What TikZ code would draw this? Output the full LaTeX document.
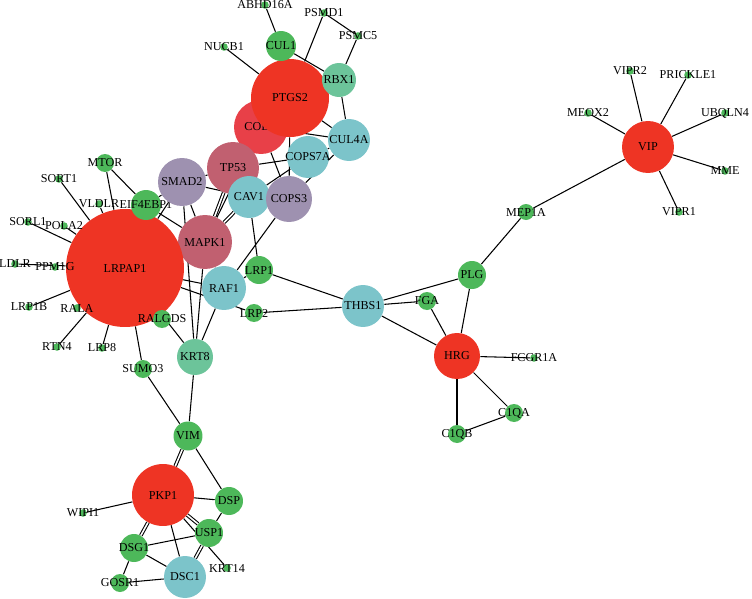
\documentclass[tikz,border=0pt]{standalone}
\usepackage{fontspec}
\setmainfont{Liberation Serif}
\usetikzlibrary{backgrounds}
\definecolor{hubred}{RGB}{238,52,36}
\definecolor{colred}{RGB}{232,64,72}
\definecolor{rosy}{RGB}{193,96,112}
\definecolor{lavender}{RGB}{158,145,176}
\definecolor{teal}{RGB}{124,196,202}
\definecolor{mint}{RGB}{108,196,154}
\definecolor{leaf}{RGB}{77,184,90}
\newcommand{\genefont}{\fontsize{6.9}{8}\selectfont}
\tikzset{
    every picture/.style={x=0.02cm,y=-0.02cm},
    gene/.style={circle,draw=none,inner sep=0pt},
    rad/.style={minimum size=#1*0.4mm},
    every label/.style={font=\genefont,inner sep=0pt,text=black},
    hub/.style={gene,fill=hubred},
    pink/.style={gene,fill=rosy},
    lav/.style={gene,fill=lavender},
    cyan/.style={gene,fill=teal},
    mnt/.style={gene,fill=mint},
    grn/.style={gene,fill=leaf},
    dot/.style={gene,fill=leaf,rad=3.8},
    dbl/.style={double=white,double distance=0.9pt},
}

\begin{document}
\begin{tikzpicture}
\useasboundingbox (0,0) rectangle (752,599);

% upper cluster
\node[pink,rad=27,label={center:MAPK1}] (mapk1) at (205,242) {};
\node[hub,rad=59,label={center:LRPAP1}] (lrpap1) at (125,268) {};
\node[grn,rad=15,label={center:EIF4EBP1}] (eif) at (146,205) {};
\node[grn,rad=9,label={center:RALGDS}] (ralgds) at (162,319) {};
\node[gene,fill=colred,rad=27,label={[xshift=0.12cm]center:COL1A1}] (col) at (261,127) {};
\node[hub,rad=39,label={center:PTGS2}] (ptgs2) at (290,98) {};
\node[mnt,rad=17,label={center:RBX1}] (rbx1) at (339,80) {};
\node[grn,rad=15,label={center:CUL1}] (cul1) at (281,46) {};
\node[cyan,rad=21,label={center:CUL4A}] (cul4a) at (349,140) {};
\node[cyan,rad=21,label={center:COPS7A}] (cops7a) at (308,157) {};
\node[lav,rad=24,label={center:SMAD2}] (smad2) at (182,182) {};
\node[pink,rad=26,label={center:TP53}] (tp53) at (233,168) {};
\node[cyan,rad=21,label={center:CAV1}] (cav1) at (249,197) {};
\node[lav,rad=23,label={center:COPS3}] (cops3) at (289,199) {};
\node[dot,label={center:ABHD16A}] (abhd) at (265,5) {};
\node[dot,label={center:PSMD1}] (psmd1) at (324,13) {};
\node[dot,label={center:PSMC5}] (psmc5) at (358,36) {};
\node[dot,label={center:NUCB1}] (nucb1) at (224,47) {};
\node[grn,rad=9,label={center:MTOR}] (mtor) at (105,163) {};
\node[dot,label={center:SORT1}] (sort1) at (59,179) {};
\node[dot,label={center:VLDLR}] (vldlr) at (99,204) {};
\node[dot,label={center:SORL1}] (sorl1) at (28,222) {};
\node[dot,label={center:POLA2}] (pola2) at (64,226) {};
\node[dot,label={center:LDLR}] (ldlr) at (15,264) {};
\node[dot,label={center:PPM1G}] (ppm1g) at (55,267) {};
\node[dot,label={center:LRP1B}] (lrp1b) at (29,307) {};
\node[dot,label={center:RALA}] (rala) at (77,308) {};
\node[dot,label={center:RTN4}] (rtn4) at (57,347) {};
\node[dot,label={center:LRP8}] (lrp8) at (102,348) {};
\node[grn,rad=9,label={center:SUMO3}] (sumo3) at (143,369) {};
\node[mnt,rad=18,label={center:KRT8}] (krt8) at (195,357) {};
\node[cyan,rad=22,label={center:RAF1}] (raf1) at (224,288) {};
\node[grn,rad=14,label={center:LRP1}] (lrp1) at (259,270) {};
\node[grn,rad=9,label={center:LRP2}] (lrp2) at (254,313) {};

% right cluster
\node[cyan,rad=21,label={center:THBS1}] (thbs1) at (363,306) {};
\node[grn,rad=9,label={center:FGA}] (fga) at (427,301) {};
\node[grn,rad=14,label={center:PLG}] (plg) at (472,275) {};
\node[hub,rad=23,label={center:HRG}] (hrg) at (457,356) {};
\node[dot,label={center:FCGR1A}] (fcgr1a) at (534,358) {};
\node[grn,rad=9,label={center:C1QA}] (c1qa) at (514,413) {};
\node[grn,rad=9,label={center:C1QB}] (c1qb) at (457,434) {};
\node[grn,rad=8,label={center:MEP1A}] (mep1a) at (526,212) {};
\node[hub,rad=26,label={center:VIP}] (vip) at (648,147) {};
\node[dot,label={center:VIPR2}] (vipr2) at (630,71) {};
\node[dot,label={center:PRICKLE1}] (prickle1) at (688,75) {};
\node[dot,label={center:MEOX2}] (meox2) at (588,113) {};
\node[dot,label={center:UBQLN4}] (ubqln4) at (725,113) {};
\node[dot,label={center:MME}] (mme) at (725,171) {};
\node[dot,label={center:VIPR1}] (vipr1) at (679,212) {};

% lower cluster
\node[grn,rad=14.5,label={center:VIM}] (vim) at (188,436) {};
\node[hub,rad=31,label={center:PKP1}] (pkp1) at (163,495) {};
\node[grn,rad=14,label={center:DSP}] (dsp) at (229,501) {};
\node[grn,rad=14,label={center:USP1}] (usp1) at (209,533) {};
\node[grn,rad=14,label={center:DSG1}] (dsg1) at (134,548) {};
\node[cyan,rad=21,label={center:DSC1}] (dsc1) at (185,577) {};
\node[grn,rad=9,label={center:GOSR1}] (gosr1) at (120,583) {};
\node[dot,label={center:WIPI1}] (wipi1) at (83,513) {};
\node[dot,label={center:KRT14}] (krt14) at (227,568) {};

\begin{scope}[on background layer,every edge/.append style={line width=0.6pt}]
\path
(abhd) edge (cul1)
(cul1) edge (rbx1)
(cul1) edge (ptgs2)
(nucb1) edge (ptgs2)
(psmd1) edge (ptgs2)
(psmd1) edge (psmc5)
(psmc5) edge (rbx1)
(rbx1) edge (cul4a)
(ptgs2) edge (cul4a)
(col) edge (cul4a)
(cops7a) edge (cul4a)
(cops3) edge (cul4a)
(tp53) edge (cops7a)
(col) edge (cops3)
(col) edge (mapk1)
(ptgs2) edge (cops3)
(cav1) edge (cops7a)
(smad2) edge (tp53)
(smad2) edge (cav1)
(smad2) edge (mapk1)
(smad2) edge (lrpap1)
(tp53) edge[dbl] (mapk1)
(cav1) edge[dbl] (mapk1)
(cops3) edge (raf1)
(cav1) edge (lrp1)
(raf1) edge (lrp1)
(mapk1) edge (raf1)
(lrpap1) edge (raf1)
(lrpap1) edge (lrp2)
(eif) edge (mtor)
(mtor) edge (lrpap1)
(eif) edge (mapk1)
(eif) edge (smad2)
(sort1) edge (lrpap1)
(vldlr) edge (lrpap1)
(sorl1) edge (lrpap1)
(pola2) edge (lrpap1)
(ldlr) edge (lrpap1)
(lrp1b) edge (lrpap1)
(rala) edge (lrpap1)
(rtn4) edge (lrpap1)
(lrp8) edge (lrpap1)
(sumo3) edge (lrpap1)
(krt8) edge (lrpap1)
(krt8) edge (mapk1)
(krt8) edge (smad2)
(krt8) edge (raf1)
(krt8) edge (vim)
(sumo3) edge (vim)
(lrp1) edge (thbs1)
(lrp2) edge (thbs1)
(thbs1) edge (plg)
(thbs1) edge (fga)
(thbs1) edge (hrg)
(fga) edge (hrg)
(plg) edge (hrg)
(hrg) edge (fcgr1a)
(hrg) edge (c1qb)
(hrg) edge (c1qa)
(c1qa) edge (c1qb)
(plg) edge (mep1a)
(mep1a) edge (vip)
(vip) edge (vipr2)
(vip) edge (prickle1)
(vip) edge (meox2)
(vip) edge (ubqln4)
(vip) edge (mme)
(vip) edge (vipr1)
(vim) edge[dbl] (pkp1)
(vim) edge (dsp)
(pkp1) edge (dsp)
(pkp1) edge (wipi1)
(pkp1) edge[dbl] (usp1)
(pkp1) edge (krt14)
(dsp) edge (usp1)
(pkp1) edge[dbl] (dsg1)
(pkp1) edge (dsc1)
(usp1) edge (dsg1)
(usp1) edge[dbl] (dsc1)
(dsg1) edge (dsc1)
(dsg1) edge (gosr1)
(gosr1) edge (dsc1)
;
\end{scope}
\end{tikzpicture}
\end{document}
